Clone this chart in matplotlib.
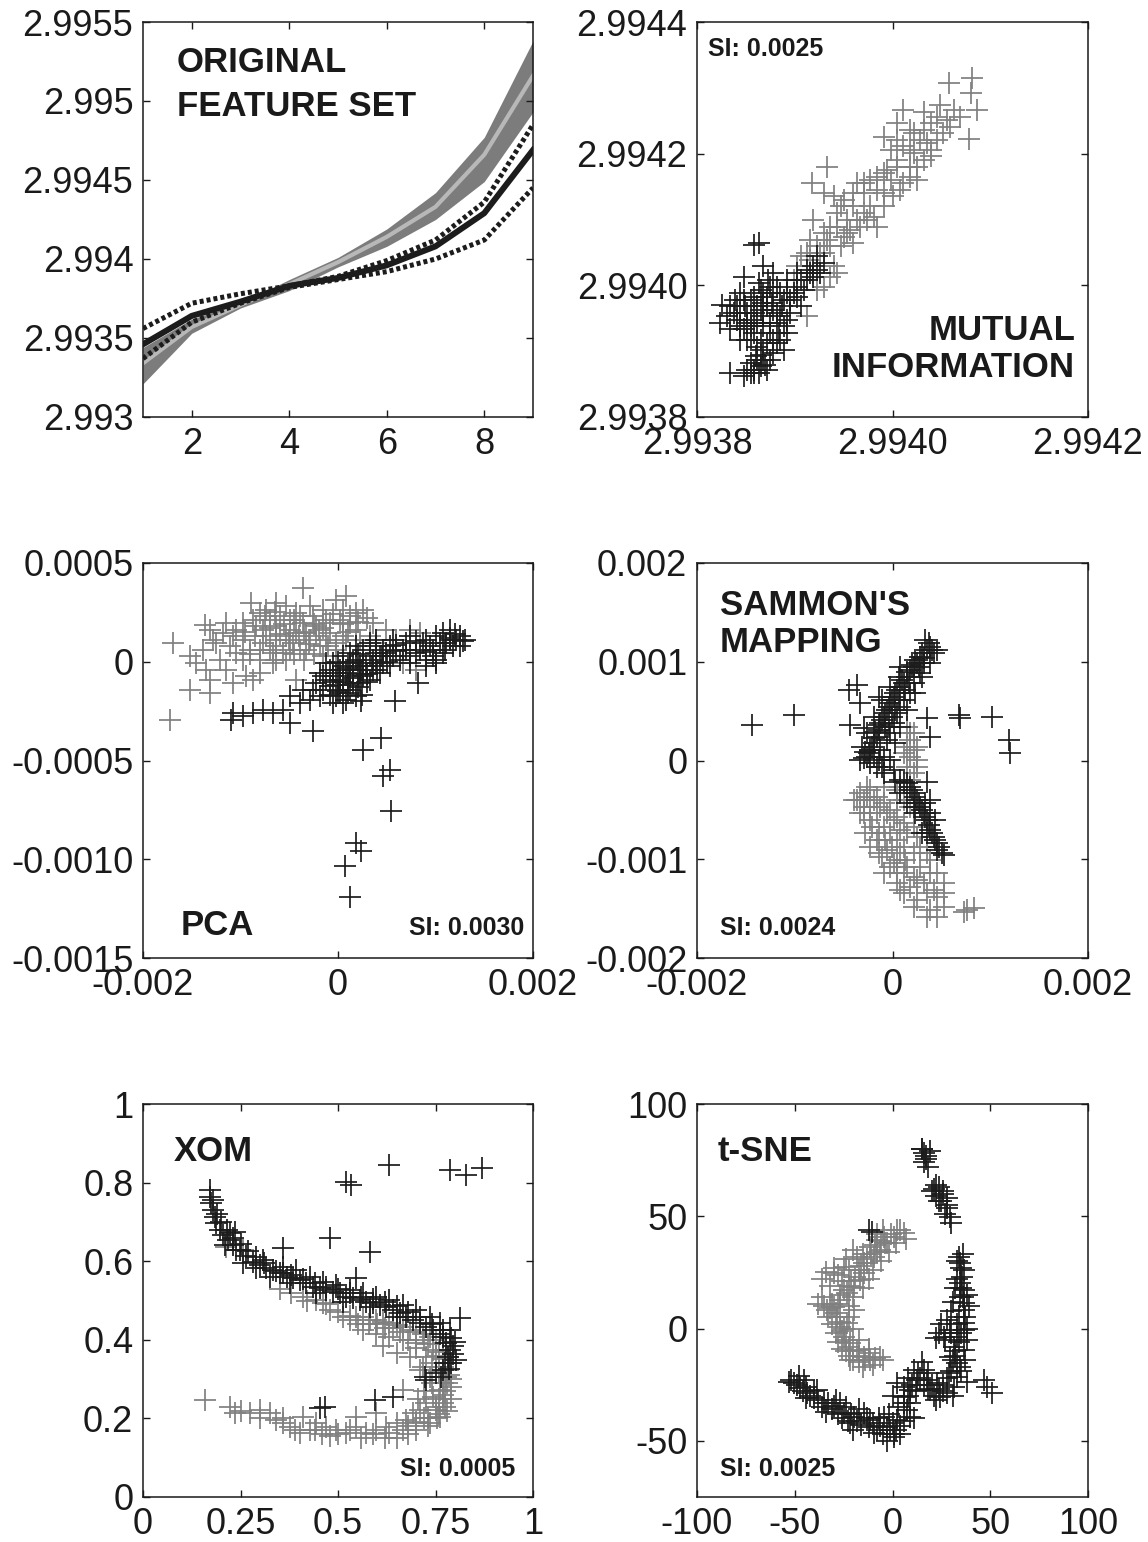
import matplotlib
matplotlib.use("Agg")
import matplotlib.pyplot as plt

plt.rcParams['font.family'] = ['Liberation Sans', 'DejaVu Sans']

BLACK = '#1c1c1c'
GRAY = '#808080'
BAND = '#7c7c7c'
CENTER = '#b8b8b8'

# ---------------- Panel 1: original feature set ----------------
feat_x = [1, 2, 3, 4, 5, 6, 7, 8, 9]
band_upper = [2.99344, 2.99362, 2.99372, 2.99387, 2.99401, 2.99419, 2.99442, 2.99477, 2.99538]
band_lower = [2.99321, 2.99353, 2.99369, 2.99380, 2.99395, 2.99408, 2.99425, 2.99449, 2.99493]
band_mean = [2.99334, 2.99357, 2.99371, 2.99384, 2.99398, 2.99414, 2.99433, 2.99466, 2.99516]
black_mean = [2.99346, 2.99364, 2.99373, 2.99383, 2.99388, 2.99396, 2.99408, 2.99429, 2.99469]
black_upper = [2.99356, 2.99372, 2.99378, 2.99383, 2.99389, 2.99399, 2.99412, 2.99436, 2.99485]
black_lower = [2.99337, 2.99360, 2.99372, 2.99382, 2.99387, 2.99392, 2.99400, 2.99412, 2.99445]

# ---------------- Panel 2: mutual information ----------------
mi_gray = [(2.994081, 2.994315), (2.994058, 2.994307), (2.994080, 2.994292), (2.994086, 2.994266),
           (2.994078, 2.994223), (2.994063, 2.994266), (2.994049, 2.994274), (2.994032, 2.994264),
           (2.994011, 2.994266), (2.994005, 2.994246), (2.994039, 2.994246), (2.994052, 2.994231),
           (2.994059, 2.994241), (2.994022, 2.994231), (2.993991, 2.994226), (2.993998, 2.994206),
           (2.994011, 2.994211), (2.994022, 2.994201), (2.994035, 2.994216), (2.994039, 2.994196),
           (2.994018, 2.994180), (2.994005, 2.994180), (2.993991, 2.994170), (2.993977, 2.994160),
           (2.993984, 2.994145), (2.993971, 2.994140), (2.993964, 2.994155), (2.993960, 2.994120),
           (2.993947, 2.994120), (2.993953, 2.994099), (2.993971, 2.994110), (2.993984, 2.994089),
           (2.993977, 2.994120), (2.993933, 2.994180), (2.993918, 2.994155), (2.993930, 2.994140),
           (2.993940, 2.994135), (2.993943, 2.994110), (2.993919, 2.994099), (2.993936, 2.994089),
           (2.993950, 2.994074), (2.993960, 2.994064), (2.993933, 2.994069), (2.993923, 2.994059),
           (2.993913, 2.994049), (2.993906, 2.994044), (2.993940, 2.994029), (2.993936, 2.994013),
           (2.993913, 2.993953), (2.993923, 2.993993), (2.993998, 2.994160), (2.994008, 2.994145),
           (2.994025, 2.994160), (2.994005, 2.994221), (2.994028, 2.994221), (2.993991, 2.994140),
           (2.993964, 2.994099), (2.993953, 2.994079), (2.993930, 2.994049), (2.993919, 2.994019),
           (2.993943, 2.994019), (2.993916, 2.994039), (2.993926, 2.994049), (2.993936, 2.994059),
           (2.993947, 2.994059), (2.993957, 2.994084), (2.993967, 2.994089), (2.993974, 2.994099),
           (2.993981, 2.994104), (2.993991, 2.994120), (2.994001, 2.994135), (2.994011, 2.994155),
           (2.994018, 2.994165), (2.994025, 2.994180), (2.994032, 2.994190), (2.994039, 2.994206),
           (2.994046, 2.994221), (2.994032, 2.994236), (2.994018, 2.994206), (2.994005, 2.994190),
           (2.993994, 2.994175), (2.993984, 2.994165), (2.993971, 2.994155), (2.993960, 2.994140),
           (2.993950, 2.994130), (2.993943, 2.994089), (2.993930, 2.994079), (2.993916, 2.994069),
           (2.993902, 2.994029), (2.993899, 2.994008), (2.993930, 2.993998), (2.994056, 2.994251),
           (2.994069, 2.994256), (2.994046, 2.994256), (2.994018, 2.994236)]
mi_black = [(2.993858, 2.994062), (2.993863, 2.994064), (2.993848, 2.994013), (2.993868, 2.994029),
            (2.993844, 2.993988), (2.993826, 2.993970), (2.993831, 2.993953), (2.993824, 2.993943),
            (2.993834, 2.993933), (2.993919, 2.994029), (2.993913, 2.994008), (2.993902, 2.993998),
            (2.993895, 2.993978), (2.993885, 2.993988), (2.993875, 2.993998), (2.993868, 2.993988),
            (2.993861, 2.993968), (2.993855, 2.993948), (2.993848, 2.993933), (2.993841, 2.993948),
            (2.993868, 2.993953), (2.993882, 2.993958), (2.993889, 2.993938), (2.993875, 2.993927),
            (2.993865, 2.993917), (2.993858, 2.993927), (2.993851, 2.993917), (2.993844, 2.993958),
            (2.993885, 2.993917), (2.993889, 2.993902), (2.993878, 2.993897), (2.993882, 2.993912),
            (2.993861, 2.993887), (2.993855, 2.993882), (2.993865, 2.993877), (2.993858, 2.993867),
            (2.993851, 2.993872), (2.993868, 2.993887), (2.993834, 2.993867), (2.993848, 2.993862),
            (2.993872, 2.993872), (2.993860, 2.993892), (2.993902, 2.994019), (2.993923, 2.994044),
            (2.993916, 2.994019), (2.993899, 2.993988), (2.993906, 2.993968), (2.993892, 2.994008),
            (2.993878, 2.994019), (2.993873, 2.994008), (2.993863, 2.994003), (2.993855, 2.993978),
            (2.993849, 2.993968), (2.993839, 2.993978), (2.993868, 2.993973), (2.993877, 2.993973),
            (2.993887, 2.993968), (2.993895, 2.993958), (2.993855, 2.993938), (2.993844, 2.993917),
            (2.993841, 2.993968), (2.993848, 2.993978), (2.993858, 2.993983), (2.993865, 2.993993),
            (2.993872, 2.993983), (2.993878, 2.993988), (2.993889, 2.993978), (2.993882, 2.993998),
            (2.993892, 2.993988), (2.993902, 2.993983), (2.993909, 2.993993), (2.993906, 2.994008),
            (2.993913, 2.994024), (2.993919, 2.994013), (2.993923, 2.994024), (2.993930, 2.994034),
            (2.993926, 2.994019), (2.993851, 2.993958), (2.993858, 2.993958), (2.993865, 2.993963),
            (2.993872, 2.993968), (2.993878, 2.993963), (2.993885, 2.993953), (2.993892, 2.993948),
            (2.993861, 2.993943), (2.993868, 2.993938), (2.993875, 2.993943), (2.993882, 2.993943),
            (2.993851, 2.993943), (2.993844, 2.993938), (2.993838, 2.993958), (2.993834, 2.993968),
            (2.993855, 2.993917), (2.993861, 2.993907), (2.993868, 2.993902), (2.993872, 2.993912),
            (2.993878, 2.993917), (2.993884, 2.993927), (2.993892, 2.993927), (2.993858, 2.993872),
            (2.993863, 2.993867), (2.993855, 2.993867), (2.993870, 2.993879), (2.993875, 2.993887),
            (2.993865, 2.993894)]

# ---------------- Panel 3: PCA ----------------
pca_gray = [(-0.000359, 0.000373), (-0.000889, 0.000297), (-0.001367, 0.000188), (-0.001692, 0.000095),
            (-0.001521, 0.000027), (-0.001316, 0.000162), (-0.001145, 0.000196), (-0.001043, 0.000162),
            (-0.000872, 0.000213), (-0.000735, 0.000264), (-0.000632, 0.000297), (-0.000530, 0.000281),
            (-0.000427, 0.000247), (-0.000291, 0.000281), (-0.000154, 0.000264), (-0.000017, 0.000314),
            (0.000086, 0.000331), (0.000051, 0.000264), (0.000188, 0.000247), (0.000257, 0.000264),
            (0.000120, 0.000196), (-0.000085, 0.000196), (-0.000222, 0.000179), (-0.000359, 0.000196),
            (-0.000496, 0.000162), (-0.000632, 0.000179), (-0.000769, 0.000162), (-0.000974, 0.000112),
            (-0.001111, 0.000078), (-0.001248, 0.000095), (-0.001350, -0.000040), (-0.001214, 0.000010),
            (-0.001043, 0.000044), (-0.000906, 0.000061), (-0.000769, 0.000095), (-0.000632, 0.000078),
            (-0.000461, 0.000095), (-0.000291, 0.000112), (-0.000188, 0.000078), (-0.000085, 0.000146),
            (0.000051, 0.000129), (0.000188, 0.000162), (0.000359, 0.000196), (0.000496, 0.000162),
            (0.000735, 0.000162), (0.000838, 0.000146), (0.000804, -0.000040), (0.000667, -0.000006),
            (-0.000393, 0.000061), (-0.000530, 0.000010), (-0.000667, -0.000006), (-0.000803, -0.000057),
            (-0.000940, -0.000074), (-0.001077, -0.000108), (-0.001521, -0.000141), (-0.001316, -0.000158),
            (-0.001726, -0.000293), (-0.000872, -0.000091), (-0.000427, -0.000091), (-0.000564, 0.000044),
            (-0.000154, 0.000027), (-0.000017, 0.000061), (-0.000803, 0.000247), (-0.000701, 0.000213),
            (-0.000598, 0.000230), (-0.000496, 0.000213), (-0.000393, 0.000230), (-0.000256, 0.000230),
            (-0.000120, 0.000213), (0.000017, 0.000213), (0.000120, 0.000230), (-0.000735, 0.000129),
            (-0.000632, 0.000112), (-0.000530, 0.000129), (-0.000427, 0.000146), (-0.000325, 0.000146),
            (-0.000222, 0.000129), (-0.000120, 0.000112), (-0.000017, 0.000095), (0.000086, 0.000112),
            (-0.000803, 0.000061), (-0.000667, 0.000044), (-0.000496, 0.000061), (-0.000325, 0.000061),
            (-0.000838, 0.000179), (-0.000974, 0.000196), (-0.001077, 0.000129), (-0.001179, 0.000146),
            (-0.001282, 0.000112), (-0.001385, 0.000061), (-0.001453, -0.000006), (-0.001145, -0.000040),
            (-0.000974, 0.000010), (-0.000803, 0.000010), (-0.000632, 0.000010), (0.000222, 0.000112),
            (0.000325, 0.000129), (0.000393, 0.000095), (0.000598, 0.000112), (0.000530, 0.000027),
            (-0.001316, -0.000091), (-0.000750, 0.000230), (-0.000650, 0.000250), (-0.000550, 0.000190),
            (-0.000450, 0.000210), (-0.000350, 0.000150), (-0.000250, 0.000190), (-0.000150, 0.000170),
            (-0.000050, 0.000240), (0.000050, 0.000190), (-0.000700, 0.000170), (-0.000600, 0.000140),
            (-0.000500, 0.000110), (-0.000400, 0.000130), (-0.000300, 0.000090), (-0.000200, 0.000160),
            (-0.000100, 0.000080), (0.000100, 0.000150), (0.000200, 0.000200), (0.000300, 0.000220),
            (-0.000850, 0.000130), (-0.000950, 0.000150), (-0.000900, 0.000040), (-0.000700, 0.000060),
            (-0.000450, 0.000040), (-0.000350, 0.000010), (-0.000250, 0.000040)]
pca_black = [(-0.000154, -0.000074), (-0.000085, -0.000040), (-0.000017, -0.000057), (0.000051, -0.000023),
             (0.000120, -0.000006), (0.000188, 0.000010), (0.000257, -0.000006), (0.000325, 0.000027),
             (0.000393, 0.000044), (0.000462, 0.000061), (0.000530, 0.000078), (0.000598, 0.000086),
             (0.000701, 0.000095), (0.000804, 0.000103), (0.000906, 0.000112), (0.001009, 0.000129),
             (0.001077, 0.000146), (0.001145, 0.000162), (0.001214, 0.000112), (0.001282, 0.000103),
             (0.001111, 0.000095), (0.000975, 0.000061), (0.001009, 0.000010), (0.000906, 0.000010),
             (0.000804, 0.000044), (0.000735, -0.000006), (0.000667, 0.000061), (0.000564, 0.000027),
             (0.000462, -0.000006), (0.000359, -0.000040), (0.000257, -0.000074), (0.000154, -0.000108),
             (0.000051, -0.000141), (-0.000017, -0.000175), (-0.000085, -0.000125), (-0.000154, -0.000141),
             (-0.000222, -0.000108), (-0.000120, -0.000006), (0.000051, 0.000027), (0.000188, 0.000078),
             (0.000325, 0.000095), (0.000393, 0.000112), (0.000120, -0.000074), (0.000017, -0.000091),
             (0.000222, -0.000040), (0.000393, -0.000006), (0.000086, -0.000192), (-0.000051, -0.000209),
             (-0.000291, -0.000192), (-0.000393, -0.000209), (-0.000496, -0.000175), (-0.000564, -0.000243),
             (-0.000667, -0.000260), (-0.000769, -0.000243), (-0.000872, -0.000260), (-0.000974, -0.000276),
             (-0.001077, -0.000260), (-0.001094, -0.000293), (-0.000496, -0.000310), (-0.000256, -0.000352),
             (-0.000359, -0.000141), (0.000821, -0.000108), (0.000581, -0.000201), (0.000257, -0.000445),
             (0.000445, -0.000386), (0.000462, -0.000580), (0.000530, -0.000547), (0.000547, -0.000758),
             (0.000188, -0.000918), (0.000239, -0.000960), (0.000069, -0.001036), (0.000123, -0.001191),
             (0.000239, -0.000201), (-0.000188, -0.000057), (-0.000120, -0.000091), (-0.000051, -0.000074),
             (0.000017, -0.000040), (0.000086, -0.000057), (0.000154, -0.000040), (0.000222, -0.000023),
             (0.000291, -0.000023), (0.000359, 0.000010), (0.000427, 0.000027), (0.000496, 0.000044),
             (0.000598, 0.000053), (-0.000085, -0.000167), (0.000017, -0.000158), (0.000120, -0.000141),
             (0.000222, -0.000108), (0.000325, -0.000091), (0.000427, -0.000057), (0.000530, -0.000023),
             (0.000633, 0.000010), (0.000735, 0.000027), (0.000838, 0.000061), (0.000940, 0.000078),
             (0.001043, 0.000095), (0.001145, 0.000112), (0.001248, 0.000129), (0.001180, 0.000078),
             (0.001077, 0.000044), (0.000975, 0.000027), (0.000051, -0.000209), (0.000188, -0.000175),
             (-0.000188, -0.000175), (-0.000256, -0.000141), (-0.000051, -0.000006), (0.000120, 0.000044),
             (0.000257, 0.000061), (0.000393, 0.000078), (0.000564, 0.000112), (0.000735, 0.000129),
             (0.000872, 0.000095), (0.001009, -0.000006), (0.000906, -0.000023), (0.000050, -0.000100),
             (0.000100, -0.000120), (0.000150, -0.000080), (0.000200, -0.000060), (0.000250, -0.000040),
             (0.000300, -0.000060), (0.000350, -0.000020), (0.000000, -0.000120), (-0.000050, -0.000100),
             (0.000100, -0.000160), (0.000200, -0.000130), (0.000300, -0.000100), (0.000400, -0.000040),
             (0.000500, 0.000000), (0.000450, 0.000030), (0.000100, -0.000030), (0.000150, 0.000000),
             (0.000000, 0.000000), (0.000200, 0.000040), (0.000000, -0.000150), (0.000250, -0.000170),
             (0.000700, 0.000060), (0.000900, 0.000050), (0.001100, 0.000060), (0.001200, 0.000140),
             (0.001250, 0.000080), (0.001300, 0.000110), (0.001150, 0.000120)]

# ---------------- Panel 4: Sammon's mapping ----------------
sam_gray = [(0.000182, 0.000207), (0.000217, 0.000106), (0.000251, 0.000005), (0.000148, -0.000063),
            (0.000182, 0.000275), (0.000114, 0.000072), (-0.000295, -0.000401), (-0.000363, -0.000401),
            (-0.000227, -0.000299), (-0.000159, -0.000367), (-0.000090, -0.000434), (-0.000022, -0.000502),
            (0.000046, -0.000569), (0.000114, -0.000637), (-0.000159, -0.000536), (-0.000090, -0.000671),
            (-0.000022, -0.000738), (0.000046, -0.000806), (0.000114, -0.000873), (-0.000227, -0.000603),
            (-0.000159, -0.000806), (-0.000056, -0.000907), (0.000046, -0.001008), (0.000148, -0.001076),
            (0.000217, -0.001177), (0.000319, -0.001245), (0.000387, -0.001143), (0.000455, -0.001380),
            (0.000523, -0.001346), (0.000080, -0.001312), (0.000182, -0.001278), (0.000353, -0.001582),
            (0.000455, -0.001582), (0.000762, -0.001515), (0.000830, -0.001498), (0.000046, -0.000299),
            (-0.000227, -0.000468), (-0.000295, -0.000536), (-0.000090, -0.000266), (0.000046, -0.001143),
            (-0.000022, -0.001076), (0.000285, -0.001076), (0.000387, -0.001008), (0.000217, -0.000941),
            (0.000251, -0.000772), (0.000148, -0.000738), (-0.000261, -0.000266), (0.000182, -0.000198),
            (-0.000329, -0.000333), (-0.000261, -0.000367), (-0.000193, -0.000401), (-0.000125, -0.000468),
            (-0.000056, -0.000536), (0.000012, -0.000603), (0.000080, -0.000704), (-0.000295, -0.000468),
            (-0.000210, -0.000671), (-0.000142, -0.000738), (-0.000073, -0.000806), (-0.000005, -0.000873),
            (0.000080, -0.000941), (0.000131, -0.001008), (-0.000107, -0.000975), (0.000012, -0.001042),
            (0.000114, -0.001143), (0.000251, -0.001211), (0.000353, -0.001346), (0.000421, -0.001312),
            (0.000251, -0.001413), (0.000217, -0.001481), (0.000387, -0.001515), (0.000523, -0.001481),
            (0.000728, -0.001532), (0.000114, -0.000401), (0.000182, -0.000468), (0.000046, -0.000401),
            (0.000080, -0.000266), (0.000217, -0.000131), (0.000251, 0.000140), (0.000148, 0.000140),
            (0.000217, 0.000275), (-0.000397, -0.000401), (-0.000329, -0.000536), (-0.000278, -0.000738),
            (-0.000227, -0.000873), (0.000217, -0.000671), (0.000285, -0.000873), (0.000353, -0.000941),
            (0.000455, -0.001143), (0.000523, -0.001245), (0.000046, -0.001245), (0.000114, -0.001346),
            (-0.000090, -0.001143), (-0.000142, -0.000941), (0.000182, 0.000038), (0.000251, -0.000063),
            (0.000148, 0.000342)]
sam_black = [(0.000336, 0.001220), (0.000387, 0.001152), (0.000421, 0.001085), (0.000353, 0.001119),
             (0.000285, 0.001051), (0.000251, 0.000984), (0.000217, 0.000950), (0.000182, 0.000916),
             (0.000148, 0.000849), (0.000114, 0.000781), (0.000063, 0.000849), (0.000046, 0.000713),
             (0.000012, 0.000646), (-0.000022, 0.000578), (-0.000056, 0.000511), (-0.000090, 0.000443),
             (-0.000125, 0.000376), (-0.000142, 0.000308), (-0.000159, 0.000241), (-0.000193, 0.000173),
             (-0.000227, 0.000106), (-0.000261, 0.000038), (-0.000227, -0.000029), (-0.000159, -0.000063),
             (-0.000090, -0.000131), (-0.000125, 0.000106), (-0.000056, 0.000207), (-0.000022, 0.000275),
             (0.000012, 0.000376), (0.000046, 0.000477), (0.000080, 0.000545), (0.000114, 0.000612),
             (0.000182, 0.000680), (0.000217, 0.000781), (0.000285, 0.000882), (0.000319, 0.000984),
             (-0.000090, 0.000038), (-0.000039, 0.000342), (0.000080, -0.000198), (0.000114, -0.000215),
             (0.000182, -0.000266), (0.000217, -0.000333), (0.000251, -0.000401), (0.000285, -0.000468),
             (0.000319, -0.000536), (0.000353, -0.000603), (0.000387, -0.000704), (0.000421, -0.000772),
             (0.000472, -0.000873), (0.000506, -0.000941), (0.000353, -0.000215), (0.000217, -0.000468),
             (0.000302, -0.000738), (-0.001437, 0.000359), (-0.001011, 0.000460), (-0.000448, 0.000713),
             (-0.000363, 0.000764), (-0.000329, 0.000578), (-0.000431, 0.000359), (-0.000295, 0.000325),
             (-0.000142, 0.000646), (0.000353, 0.000426), (0.000387, 0.000241), (0.000677, 0.000460),
             (0.000694, 0.000426), (0.001018, 0.000443), (0.001188, 0.000207), (0.001205, 0.000072),
             (0.000370, 0.001186), (0.000404, 0.001119), (0.000302, 0.001085), (0.000234, 0.001017),
             (0.000199, 0.000967), (0.000148, 0.000899), (0.000097, 0.000815), (0.000080, 0.000747),
             (0.000029, 0.000680), (-0.000005, 0.000612), (-0.000039, 0.000545), (-0.000073, 0.000477),
             (-0.000107, 0.000410), (-0.000142, 0.000359), (-0.000176, 0.000292), (-0.000193, 0.000224),
             (-0.000210, 0.000140), (-0.000244, 0.000072), (-0.000278, 0.000089), (-0.000295, 0.000021),
             (-0.000193, 0.000038), (-0.000142, 0.000005), (-0.000107, -0.000063), (-0.000073, 0.000342),
             (-0.000005, 0.000443), (0.000029, 0.000511), (0.000063, 0.000612), (0.000131, 0.000713),
             (0.000165, 0.000781), (0.000268, 0.000950), (0.000319, 0.001034), (0.000148, -0.000232),
             (0.000199, -0.000299), (0.000234, -0.000367), (0.000268, -0.000434), (0.000302, -0.000502),
             (0.000336, -0.000569), (0.000370, -0.000654), (0.000404, -0.000738), (0.000438, -0.000806),
             (0.000455, -0.000907), (0.000523, -0.000958), (0.000387, -0.000401), (0.000336, -0.000434),
             (0.000080, 0.000950), (-0.000022, 0.000747), (-0.000107, 0.000612), (-0.000193, 0.000443),
             (-0.000261, 0.000275), (-0.000312, 0.000140), (-0.000329, 0.000005), (0.000455, 0.001119),
             (0.000387, 0.000984), (0.000302, 0.000849), (0.000234, 0.000680), (0.000148, 0.000511),
             (0.000080, 0.000342), (0.000029, 0.000173), (-0.000022, 0.000005), (0.000012, -0.000097),
             (0.000080, -0.000333), (0.000148, -0.000434), (0.000234, -0.000536), (0.000387, -0.000536),
             (0.000438, -0.000603), (0.000353, -0.000738), (0.000455, -0.000840), (0.000029, -0.000215)]

# ---------------- Panel 5: XOM ----------------
xom_gray = [(0.158, 0.247), (0.222, 0.230), (0.235, 0.213), (0.274, 0.213), (0.299, 0.221), (0.325, 0.213),
            (0.342, 0.196), (0.376, 0.179), (0.402, 0.162), (0.427, 0.171), (0.444, 0.188), (0.470, 0.179),
            (0.496, 0.171), (0.521, 0.162), (0.547, 0.179), (0.573, 0.162), (0.598, 0.171), (0.624, 0.179),
            (0.650, 0.188), (0.675, 0.196), (0.692, 0.213), (0.709, 0.221), (0.726, 0.238), (0.744, 0.255),
            (0.761, 0.272), (0.769, 0.289), (0.778, 0.306), (0.782, 0.323), (0.786, 0.340), (0.782, 0.357),
            (0.778, 0.374), (0.769, 0.391), (0.752, 0.400), (0.735, 0.408), (0.718, 0.416), (0.701, 0.421),
            (0.684, 0.425), (0.667, 0.433), (0.650, 0.438), (0.632, 0.442), (0.615, 0.446), (0.598, 0.450),
            (0.581, 0.450), (0.564, 0.459), (0.547, 0.459), (0.530, 0.450), (0.513, 0.459), (0.479, 0.476),
            (0.462, 0.493), (0.444, 0.501), (0.410, 0.510), (0.744, 0.374), (0.726, 0.357), (0.718, 0.332),
            (0.735, 0.306), (0.752, 0.221), (0.701, 0.188), (0.667, 0.171), (0.632, 0.162), (0.735, 0.188),
            (0.761, 0.204), (0.769, 0.238), (0.701, 0.391), (0.667, 0.400), (0.632, 0.408), (0.598, 0.416),
            (0.564, 0.425), (0.615, 0.383), (0.650, 0.366), (0.684, 0.357), (0.709, 0.323), (0.667, 0.272),
            (0.598, 0.213), (0.547, 0.204), (0.410, 0.204), (0.359, 0.188), (0.479, 0.154), (0.256, 0.628),
            (0.214, 0.637), (0.760, 0.250), (0.775, 0.270), (0.780, 0.290), (0.785, 0.310), (0.775, 0.230),
            (0.755, 0.200), (0.730, 0.180), (0.700, 0.170), (0.680, 0.160), (0.650, 0.150), (0.620, 0.150),
            (0.590, 0.160), (0.560, 0.150), (0.530, 0.170), (0.500, 0.160), (0.460, 0.160), (0.440, 0.170),
            (0.390, 0.170), (0.360, 0.200), (0.300, 0.200), (0.250, 0.220), (0.720, 0.400), (0.700, 0.380),
            (0.680, 0.400), (0.660, 0.420), (0.640, 0.430), (0.620, 0.430), (0.600, 0.440), (0.580, 0.440),
            (0.550, 0.440), (0.530, 0.460), (0.500, 0.470), (0.470, 0.490), (0.420, 0.500), (0.380, 0.520),
            (0.350, 0.530), (0.740, 0.340), (0.760, 0.320), (0.750, 0.360), (0.730, 0.390), (0.705, 0.250),
            (0.720, 0.270), (0.740, 0.290), (0.770, 0.260), (0.790, 0.280), (0.790, 0.300), (0.790, 0.250),
            (0.780, 0.220), (0.760, 0.210), (0.730, 0.200), (0.750, 0.230), (0.770, 0.330), (0.770, 0.350),
            (0.760, 0.370), (0.720, 0.200), (0.700, 0.190), (0.680, 0.180)]
xom_black = [(0.171, 0.781), (0.171, 0.764), (0.175, 0.747), (0.179, 0.730), (0.184, 0.713), (0.188, 0.696),
             (0.197, 0.679), (0.205, 0.667), (0.218, 0.654), (0.231, 0.641), (0.248, 0.628), (0.265, 0.612),
             (0.282, 0.599), (0.299, 0.590), (0.316, 0.582), (0.333, 0.578), (0.350, 0.569), (0.368, 0.561),
             (0.385, 0.556), (0.402, 0.552), (0.419, 0.544), (0.436, 0.535), (0.453, 0.531), (0.470, 0.527),
             (0.487, 0.522), (0.504, 0.518), (0.521, 0.510), (0.538, 0.506), (0.556, 0.501), (0.573, 0.497),
             (0.590, 0.493), (0.607, 0.489), (0.624, 0.484), (0.641, 0.476), (0.658, 0.467), (0.675, 0.459),
             (0.692, 0.450), (0.709, 0.442), (0.726, 0.433), (0.744, 0.425), (0.761, 0.416), (0.769, 0.408),
             (0.778, 0.391), (0.786, 0.374), (0.782, 0.357), (0.774, 0.340), (0.769, 0.323), (0.752, 0.315),
             (0.726, 0.298), (0.795, 0.383), (0.803, 0.349), (0.222, 0.671), (0.239, 0.628), (0.209, 0.641),
             (0.256, 0.595), (0.291, 0.582), (0.308, 0.603), (0.359, 0.586), (0.393, 0.578), (0.427, 0.561),
             (0.462, 0.548), (0.496, 0.539), (0.530, 0.527), (0.564, 0.518), (0.598, 0.510), (0.632, 0.501),
             (0.667, 0.489), (0.701, 0.476), (0.735, 0.459), (0.761, 0.442), (0.786, 0.425), (0.325, 0.561),
             (0.376, 0.544), (0.444, 0.518), (0.513, 0.497), (0.581, 0.484), (0.650, 0.459), (0.632, 0.845),
             (0.786, 0.832), (0.829, 0.819), (0.868, 0.836), (0.521, 0.802), (0.534, 0.794), (0.479, 0.658),
             (0.359, 0.633), (0.581, 0.624), (0.812, 0.455), (0.466, 0.230), (0.453, 0.226), (0.594, 0.247),
             (0.641, 0.255), (0.547, 0.556), (0.235, 0.675), (0.722, 0.306), (0.180, 0.755), (0.190, 0.720),
             (0.200, 0.700), (0.215, 0.680), (0.230, 0.660), (0.250, 0.645), (0.270, 0.625), (0.290, 0.610),
             (0.310, 0.595), (0.340, 0.575), (0.360, 0.570), (0.380, 0.565), (0.410, 0.555), (0.440, 0.545),
             (0.470, 0.535), (0.500, 0.528), (0.530, 0.518), (0.560, 0.510), (0.590, 0.503), (0.620, 0.495),
             (0.650, 0.485), (0.680, 0.472), (0.710, 0.458), (0.740, 0.440), (0.770, 0.425), (0.790, 0.405),
             (0.800, 0.395), (0.795, 0.365), (0.790, 0.340), (0.785, 0.325), (0.765, 0.305)]

# ---------------- Panel 6: t-SNE ----------------
tsne_gray = [(2.3, 43.9), (0.6, 40.9), (-2.8, 38.0), (-6.2, 35.0), (-9.6, 32.0), (-13.0, 29.1), (-14.8, 24.6),
             (-16.5, 21.6), (-19.9, 18.7), (-23.3, 15.7), (-26.7, 12.7), (-30.1, 9.8), (-28.4, 5.3),
             (-26.7, 0.9), (-25.0, -3.6), (-21.6, -6.6), (-18.2, -9.5), (-14.8, -12.5), (-11.3, -14.0),
             (-6.2, -12.5), (-21.6, -14.0), (-30.1, 24.6), (-25.0, 27.6), (-18.2, 32.0), (-11.3, 36.5),
             (-4.5, 40.9), (-33.5, 8.3), (-23.3, 2.4), (-19.9, 8.3), (-14.8, 29.1), (-7.9, 39.5), (5.7, 42.4),
             (-1.0, 42.0), (-4.0, 38.0), (-6.0, 39.0), (-8.0, 34.0), (-11.0, 33.0), (-13.0, 31.0), (-16.0, 28.0),
             (-17.0, 26.0), (-19.0, 23.0), (-21.0, 21.0), (-22.0, 19.0), (-25.0, 17.0), (-27.0, 15.0),
             (-28.0, 11.0), (-31.0, 11.0), (-32.0, 9.0), (-29.0, 7.0), (-27.0, 3.0), (-26.0, -1.0),
             (-24.0, -5.0), (-22.0, -8.0), (-20.0, -10.0), (-17.0, -12.0), (-14.0, -14.0), (-12.0, -11.0),
             (-9.0, -13.0), (-17.0, -15.0), (-30.0, 27.0), (-34.0, 25.0), (-28.0, 24.0), (-22.0, 26.0),
             (-15.0, 33.0), (-9.0, 37.0), (4.0, 44.0), (-24.0, -10.0), (-20.0, -14.0), (-25.0, 0.0),
             (-22.0, 5.0), (-35.0, 10.0), (-36.0, 14.0), (-38.0, 11.0), (-33.0, 5.0), (-31.0, 2.0),
             (-29.0, -2.0), (-28.0, -6.0), (-26.0, -9.0), (-22.0, -12.0), (-15.0, -17.0), (-10.0, -16.0),
             (-5.0, -14.0), (-12.0, -9.0), (-17.0, -5.0), (-20.0, 0.0), (-22.0, 10.0), (-20.0, 14.0),
             (-15.0, 18.0), (-12.0, 22.0), (-10.0, 26.0), (-6.0, 30.0), (-2.0, 34.0), (2.0, 38.0), (7.0, 40.0),
             (-36.0, 22.0), (-32.0, 19.0), (-26.0, 21.0), (-24.0, 31.0), (-20.0, 35.0), (-8.0, 42.0),
             (-5.0, 44.0)]
tsne_black = [(15.3, 79.9), (17.2, 75.5), (16.0, 78.0), (18.0, 72.0), (20.0, 61.4), (25.8, 61.4), (27.7, 53.9),
              (29.6, 49.5), (23.9, 56.9), (22.0, 64.0), (28.0, 58.0), (-10.5, 43.2), (-12.2, 43.9),
              (34.7, 29.1), (35.5, 23.1), (36.4, 17.2), (36.4, 11.3), (37.3, 5.3), (36.4, -0.6), (33.0, -3.6),
              (31.3, -8.0), (29.6, -12.5), (36.4, -9.5), (34.7, -16.9), (33.0, -21.4), (31.3, -25.8),
              (27.9, -28.8), (24.5, -30.3), (26.2, -3.6), (29.6, -0.6), (36.4, 8.3), (34.7, 14.2), (34.7, 20.2),
              (36.4, 26.1), (33.0, -15.4), (36.4, 2.4), (46.6, -22.9), (50.9, -28.8), (48.3, -25.8),
              (-50.6, -24.4), (-47.1, -26.6), (-43.7, -28.8), (-40.3, -31.0), (-35.2, -33.3), (-30.1, -34.7),
              (-25.0, -37.7), (-19.9, -39.2), (-14.8, -37.7), (-11.3, -40.7), (-6.2, -43.6), (-1.1, -45.1),
              (4.0, -43.6), (2.3, -40.7), (7.4, -36.2), (5.7, -30.3), (9.1, -27.3), (12.5, -22.9), (15.9, -18.4),
              (10.8, -18.4), (19.4, -27.3), (22.8, -24.4), (2.3, -24.4), (-4.5, -39.2), (-9.6, -46.6),
              (-21.6, -42.2), (-26.7, -33.3), (-38.6, -27.3), (-45.4, -22.9), (0.6, -48.1), (9.1, -39.2),
              (17.6, -22.9), (-52.0, -23.0), (-49.0, -25.0), (-46.0, -28.0), (-44.0, -26.0), (-42.0, -30.0),
              (-38.0, -32.0), (-36.0, -35.0), (-33.0, -33.0), (-31.0, -36.0), (-28.0, -38.0), (-26.0, -40.0),
              (-23.0, -41.0), (-21.0, -38.0), (-18.0, -41.0), (-16.0, -43.0), (-13.0, -40.0), (-10.0, -42.0),
              (-8.0, -45.0), (-5.0, -47.0), (-3.0, -44.0), (0.0, -42.0), (2.0, -45.0), (4.0, -47.0),
              (6.0, -41.0), (3.0, -35.0), (6.0, -33.0), (8.0, -30.0), (10.0, -25.0), (12.0, -28.0),
              (14.0, -22.0), (13.0, -20.0), (16.0, -25.0), (18.0, -27.0), (21.0, -30.0), (24.0, -27.0),
              (26.0, -25.0), (28.0, -22.0), (30.0, -19.0), (31.0, -14.0), (32.0, -10.0), (34.0, -6.0),
              (35.0, -2.0), (33.0, 2.0), (34.0, 5.0), (36.0, 14.0), (35.0, 18.0), (33.0, 22.0), (35.0, 27.0),
              (34.0, 32.0), (30.0, -2.0), (27.0, -5.0), (32.0, -12.0), (35.0, -19.0), (17.0, 77.0),
              (15.0, 80.0), (19.0, 79.0), (16.0, 74.0), (21.0, 62.0), (24.0, 63.0), (26.0, 60.0), (25.0, 57.0),
              (28.0, 55.0), (27.0, 51.0), (30.0, 47.0), (22.0, 59.0), (22.0, -4.0), (24.0, -2.0), (25.0, 2.0),
              (28.0, 4.0), (30.0, 8.0), (31.0, 12.0), (38.0, 15.0), (39.0, 10.0), (38.0, 0.0), (38.0, -5.0),
              (37.0, -14.0), (29.0, -20.0), (26.0, -28.0), (22.0, -32.0), (18.0, -20.0), (15.0, -15.0),
              (8.0, -22.0), (6.0, -26.0), (0.0, -30.0), (-2.0, -38.0), (-7.0, -40.0), (-12.0, -44.0),
              (-17.0, -36.0), (-24.0, -35.0), (-29.0, -32.0), (-40.0, -28.0), (-48.0, -21.0), (-53.0, -24.0),
              (-44.0, -31.0), (-34.0, -37.0), (-20.0, -45.0), (-3.0, -50.0), (1.0, -47.0), (9.0, -33.0),
              (11.0, -40.0), (20.0, -25.0), (31.0, -30.0), (38.0, -24.0), (36.0, 33.0), (33.0, 30.0),
              (32.0, 18.0)]

# ---------------- figure ----------------
W, H = 1148, 1542
fig = plt.figure(figsize=(W / 100, H / 100), dpi=100)

def add_axes(px_left, px_top, px_right, px_bottom):
    return fig.add_axes([px_left / W, 1 - px_bottom / H, (px_right - px_left) / W, (px_bottom - px_top) / H])

TICK_FS = 26
LABEL_FS = 25
SI_FS = 18
TXT = '#1a1a1a'

def style(ax, xlim, ylim, xticks, xlabels, yticks, ylabels):
    ax.set_xlim(*xlim)
    ax.set_ylim(*ylim)
    ax.set_xticks(xticks)
    ax.set_xticklabels(xlabels)
    ax.set_yticks(yticks)
    ax.set_yticklabels(ylabels)
    ax.tick_params(direction='in', length=5, width=1.0, top=True, right=True,
                   labelsize=TICK_FS, pad=7, colors=TXT)
    for s in ax.spines.values():
        s.set_linewidth(1.1)
        s.set_color(TXT)

def scatter(ax, pts, color):
    xs = [p[0] for p in pts]
    ys = [p[1] for p in pts]
    ax.plot(xs, ys, linestyle='none', marker='+', markersize=16, markeredgewidth=1.25, color=color)

# Panel 1
ax1 = add_axes(143, 22, 533, 417)
ax1.fill_between(feat_x, band_lower, band_upper, color=BAND, linewidth=0)
ax1.plot(feat_x, band_mean, color=CENTER, linewidth=3)
ax1.plot(feat_x, black_mean, color=BLACK, linewidth=4.3)
ax1.plot(feat_x, black_upper, color=BLACK, linewidth=3.6, linestyle=(0, (0.8, 0.6)))
ax1.plot(feat_x, black_lower, color=BLACK, linewidth=3.6, linestyle=(0, (0.8, 0.6)))
style(ax1, (1, 9), (2.993, 2.9955), [2, 4, 6, 8], ['2', '4', '6', '8'],
      [2.993, 2.9935, 2.994, 2.9945, 2.995, 2.9955],
      ['2.993', '2.9935', '2.994', '2.9945', '2.995', '2.9955'])
ax1.text(0.087, 0.94, 'ORIGINAL\nFEATURE SET', transform=ax1.transAxes, fontsize=LABEL_FS,
         fontweight='bold', ha='left', va='top', linespacing=1.43, color=TXT)

# Panel 2
ax2 = add_axes(697, 22, 1088, 417)
scatter(ax2, mi_gray, GRAY)
scatter(ax2, mi_black, BLACK)
style(ax2, (2.9938, 2.9942), (2.9938, 2.9944), [2.9938, 2.9940, 2.9942], ['2.9938', '2.9940', '2.9942'],
      [2.9938, 2.9940, 2.9942, 2.9944], ['2.9938', '2.9940', '2.9942', '2.9944'])
ax2.text(0.028, 0.962, 'SI: 0.0025', transform=ax2.transAxes, fontsize=SI_FS, fontweight='bold',
         ha='left', va='top', color=TXT)
ax2.text(0.967, 0.083, 'MUTUAL\nINFORMATION', transform=ax2.transAxes, fontsize=LABEL_FS,
         fontweight='bold', ha='right', va='bottom', multialignment='right', linespacing=1.17, color=TXT)

# Panel 3
ax3 = add_axes(143, 563, 533, 958)
scatter(ax3, pca_gray, GRAY)
scatter(ax3, pca_black, BLACK)
style(ax3, (-0.002, 0.002), (-0.0015, 0.0005), [-0.002, 0, 0.002], ['-0.002', '0', '0.002'],
      [-0.0015, -0.001, -0.0005, 0, 0.0005], ['-0.0015', '-0.0010', '-0.0005', '0', '0.0005'])
ax3.text(0.097, 0.04, 'PCA', transform=ax3.transAxes, fontsize=LABEL_FS, fontweight='bold',
         ha='left', va='bottom', color=TXT)
ax3.text(0.977, 0.045, 'SI: 0.0030', transform=ax3.transAxes, fontsize=SI_FS, fontweight='bold',
         ha='right', va='bottom', color=TXT)

# Panel 4
ax4 = add_axes(697, 563, 1088, 958)
scatter(ax4, sam_gray, GRAY)
scatter(ax4, sam_black, BLACK)
style(ax4, (-0.002, 0.002), (-0.002, 0.002), [-0.002, 0, 0.002], ['-0.002', '0', '0.002'],
      [-0.002, -0.001, 0, 0.001, 0.002], ['-0.002', '-0.001', '0', '0.001', '0.002'])
ax4.text(0.059, 0.935, "SAMMON'S\nMAPPING", transform=ax4.transAxes, fontsize=LABEL_FS,
         fontweight='bold', ha='left', va='top', linespacing=1.17, color=TXT)
ax4.text(0.059, 0.045, 'SI: 0.0024', transform=ax4.transAxes, fontsize=SI_FS, fontweight='bold',
         ha='left', va='bottom', color=TXT)

# Panel 5
ax5 = add_axes(143, 1104, 533, 1497)
scatter(ax5, xom_gray, GRAY)
scatter(ax5, xom_black, BLACK)
style(ax5, (0, 1), (0, 1), [0, 0.25, 0.5, 0.75, 1], ['0', '0.25', '0.5', '0.75', '1'],
      [0, 0.2, 0.4, 0.6, 0.8, 1], ['0', '0.2', '0.4', '0.6', '0.8', '1'])
ax5.text(0.079, 0.922, 'XOM', transform=ax5.transAxes, fontsize=LABEL_FS, fontweight='bold',
         ha='left', va='top', color=TXT)
ax5.text(0.954, 0.04, 'SI: 0.0005', transform=ax5.transAxes, fontsize=SI_FS, fontweight='bold',
         ha='right', va='bottom', color=TXT)

# Panel 6
ax6 = add_axes(697, 1104, 1088, 1497)
scatter(ax6, tsne_gray, GRAY)
scatter(ax6, tsne_black, BLACK)
style(ax6, (-100, 100), (-75, 100), [-100, -50, 0, 50, 100], ['-100', '-50', '0', '50', '100'],
      [-50, 0, 50, 100], ['-50', '0', '50', '100'])
ax6.text(0.054, 0.922, 't-SNE', transform=ax6.transAxes, fontsize=LABEL_FS, fontweight='bold',
         ha='left', va='top', color=TXT)
ax6.text(0.059, 0.04, 'SI: 0.0025', transform=ax6.transAxes, fontsize=SI_FS, fontweight='bold',
         ha='left', va='bottom', color=TXT)

fig.savefig('out.png', dpi=100)
